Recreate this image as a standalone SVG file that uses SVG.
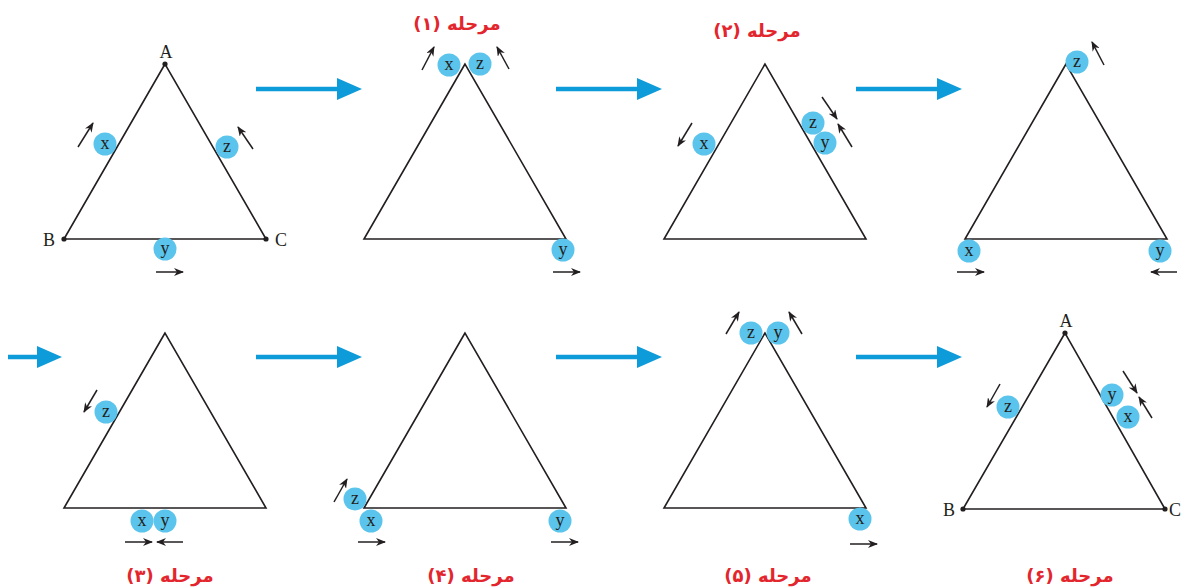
<svg xmlns="http://www.w3.org/2000/svg" width="1182" height="588" viewBox="0 0 1182 588">
<style>
.tri{fill:none;stroke:#231f20;stroke-width:1.6;stroke-linejoin:miter}
.ball{fill:#5bc4ec}
.bt{font-family:"Liberation Serif",serif;font-size:18px;fill:#231f20;text-anchor:middle}
.vl{font-family:"Liberation Serif",serif;font-size:18px;fill:#231f20;text-anchor:middle}
.dot{fill:#231f20}
.sa{stroke:#231f20;stroke-width:1.5;fill:none;marker-end:url(#ah)}
.title{font-family:"DejaVu Sans",sans-serif;font-size:18px;font-weight:bold;fill:#e3262d;text-anchor:middle;direction:rtl}
.ba{stroke:#0e9bd9;stroke-width:4.5;fill:none}
.bh{fill:#0e9bd9}
</style>
<defs>
<marker id="ah" viewBox="0 0 10 8" refX="9" refY="4" markerWidth="10" markerHeight="8" orient="auto" markerUnits="userSpaceOnUse">
<path d="M0,0 L10,4 L0,8 L3,4 Z" fill="#231f20"/>
</marker>
</defs>
<rect width="1182" height="588" fill="#ffffff"/>

<g id="connectors">
<path class="ba" d="M256,89 H340"/><path class="bh" d="M337,78 L362,89 L337,100 Z"/>
<path class="ba" d="M556,89 H640"/><path class="bh" d="M637,78 L662,89 L637,100 Z"/>
<path class="ba" d="M856,89 H940"/><path class="bh" d="M937,78 L962,89 L937,100 Z"/>
<path class="ba" d="M8,357 H40"/><path class="bh" d="M37,346 L62,357 L37,368 Z"/>
<path class="ba" d="M256,357 H340"/><path class="bh" d="M337,346 L362,357 L337,368 Z"/>
<path class="ba" d="M556,357 H640"/><path class="bh" d="M637,346 L662,357 L637,368 Z"/>
<path class="ba" d="M856,357 H940"/><path class="bh" d="M937,346 L962,357 L937,368 Z"/>
</g>

<g id="start">
<path class="tri" d="M165,64 L64,239 L266,239 Z"/>
<circle class="dot" cx="165" cy="64" r="2.6"/><circle class="dot" cx="64" cy="239" r="2.6"/><circle class="dot" cx="266" cy="239" r="2.6"/>
<text class="vl" x="166" y="58">A</text><text class="vl" x="49" y="246">B</text><text class="vl" x="281" y="246">C</text>
<circle class="ball" cx="105" cy="144" r="11.5"/><text class="bt" x="105" y="149">x</text>
<circle class="ball" cx="227" cy="147" r="11.5"/><text class="bt" x="227" y="152">z</text>
<circle class="ball" cx="165" cy="249" r="11.5"/><text class="bt" x="165" y="254">y</text>
<path class="sa" d="M78,147 L93,123"/>
<path class="sa" d="M253,149 L238,127"/>
<path class="sa" d="M156,272 L183,272"/>
</g>

<g id="stage1">
<text class="title" x="457" y="30">مرحله (۱)</text>
<path class="tri" d="M465,64 L364,239 L566,239 Z"/>
<circle class="ball" cx="449" cy="65" r="11.5"/><text class="bt" x="449" y="70">x</text>
<circle class="ball" cx="480" cy="64" r="11.5"/><text class="bt" x="480" y="69">z</text>
<circle class="ball" cx="563" cy="250" r="11.5"/><text class="bt" x="563" y="255">y</text>
<path class="sa" d="M422,70 L434,47"/>
<path class="sa" d="M509,69 L497,47"/>
<path class="sa" d="M553,272 L580,272"/>
</g>

<g id="stage2">
<text class="title" x="757" y="37">مرحله (۲)</text>
<path class="tri" d="M765,64 L664,239 L866,239 Z"/>
<circle class="ball" cx="704" cy="144" r="11.5"/><text class="bt" x="704" y="149">x</text>
<circle class="ball" cx="813" cy="123" r="11.5"/><text class="bt" x="813" y="128">z</text>
<circle class="ball" cx="825" cy="143" r="11.5"/><text class="bt" x="825" y="148">y</text>
<path class="sa" d="M692,123 L678,146"/>
<path class="sa" d="M822,97 L837,119"/>
<path class="sa" d="M852,147 L838,124"/>
</g>

<g id="stage2b">
<path class="tri" d="M1066,64 L965,239 L1167,239 Z"/>
<circle class="ball" cx="1077" cy="62" r="11.5"/><text class="bt" x="1077" y="67">z</text>
<circle class="ball" cx="969" cy="251" r="11.5"/><text class="bt" x="969" y="256">x</text>
<circle class="ball" cx="1160" cy="251" r="11.5"/><text class="bt" x="1160" y="256">y</text>
<path class="sa" d="M1104,65 L1092,42"/>
<path class="sa" d="M957,272 L984,272"/>
<path class="sa" d="M1177,272 L1151,272"/>
</g>

<g id="stage3">
<path class="tri" d="M165,333 L64,508 L266,508 Z"/>
<circle class="ball" cx="106" cy="412" r="11.5"/><text class="bt" x="106" y="417">z</text>
<circle class="ball" cx="142" cy="521" r="11.5"/><text class="bt" x="142" y="526">x</text>
<circle class="ball" cx="165" cy="521" r="11.5"/><text class="bt" x="165" y="526">y</text>
<path class="sa" d="M97,390 L84,412"/>
<path class="sa" d="M125,542 L152,542"/>
<path class="sa" d="M183,542 L157,542"/>
<text class="title" x="170" y="582">مرحله (۳)</text>
</g>

<g id="stage4">
<path class="tri" d="M465,333 L364,508 L566,508 Z"/>
<circle class="ball" cx="355" cy="499" r="11.5"/><text class="bt" x="355" y="504">z</text>
<circle class="ball" cx="371" cy="521" r="11.5"/><text class="bt" x="371" y="526">x</text>
<circle class="ball" cx="560" cy="521" r="11.5"/><text class="bt" x="560" y="526">y</text>
<path class="sa" d="M334,502 L347,479"/>
<path class="sa" d="M358,542 L385,542"/>
<path class="sa" d="M551,542 L578,542"/>
<text class="title" x="471" y="582">مرحله (۴)</text>
</g>

<g id="stage5">
<path class="tri" d="M765,333 L664,508 L866,508 Z"/>
<circle class="ball" cx="751" cy="333" r="11.5"/><text class="bt" x="751" y="338">z</text>
<circle class="ball" cx="778" cy="333" r="11.5"/><text class="bt" x="778" y="338">y</text>
<circle class="ball" cx="860" cy="519" r="11.5"/><text class="bt" x="860" y="524">x</text>
<path class="sa" d="M726,334 L739,312"/>
<path class="sa" d="M802,334 L789,312"/>
<path class="sa" d="M850,544 L877,544"/>
<text class="title" x="768" y="582">مرحله (۵)</text>
</g>

<g id="stage6">
<path class="tri" d="M1065,333 L963,509 L1165,509 Z"/>
<circle class="dot" cx="1065" cy="333" r="2.6"/><circle class="dot" cx="963" cy="509" r="2.6"/><circle class="dot" cx="1165" cy="509" r="2.6"/>
<text class="vl" x="1066" y="327">A</text><text class="vl" x="949" y="516">B</text><text class="vl" x="1175" y="516">C</text>
<circle class="ball" cx="1008" cy="407" r="11.5"/><text class="bt" x="1008" y="412">z</text>
<circle class="ball" cx="1112" cy="395" r="11.5"/><text class="bt" x="1112" y="400">y</text>
<circle class="ball" cx="1128" cy="417" r="11.5"/><text class="bt" x="1128" y="422">x</text>
<path class="sa" d="M1000,384 L987,407"/>
<path class="sa" d="M1123,371 L1137,393"/>
<path class="sa" d="M1152,418 L1139,397"/>
<text class="title" x="1070" y="582">مرحله (۶)</text>
</g>
</svg>
